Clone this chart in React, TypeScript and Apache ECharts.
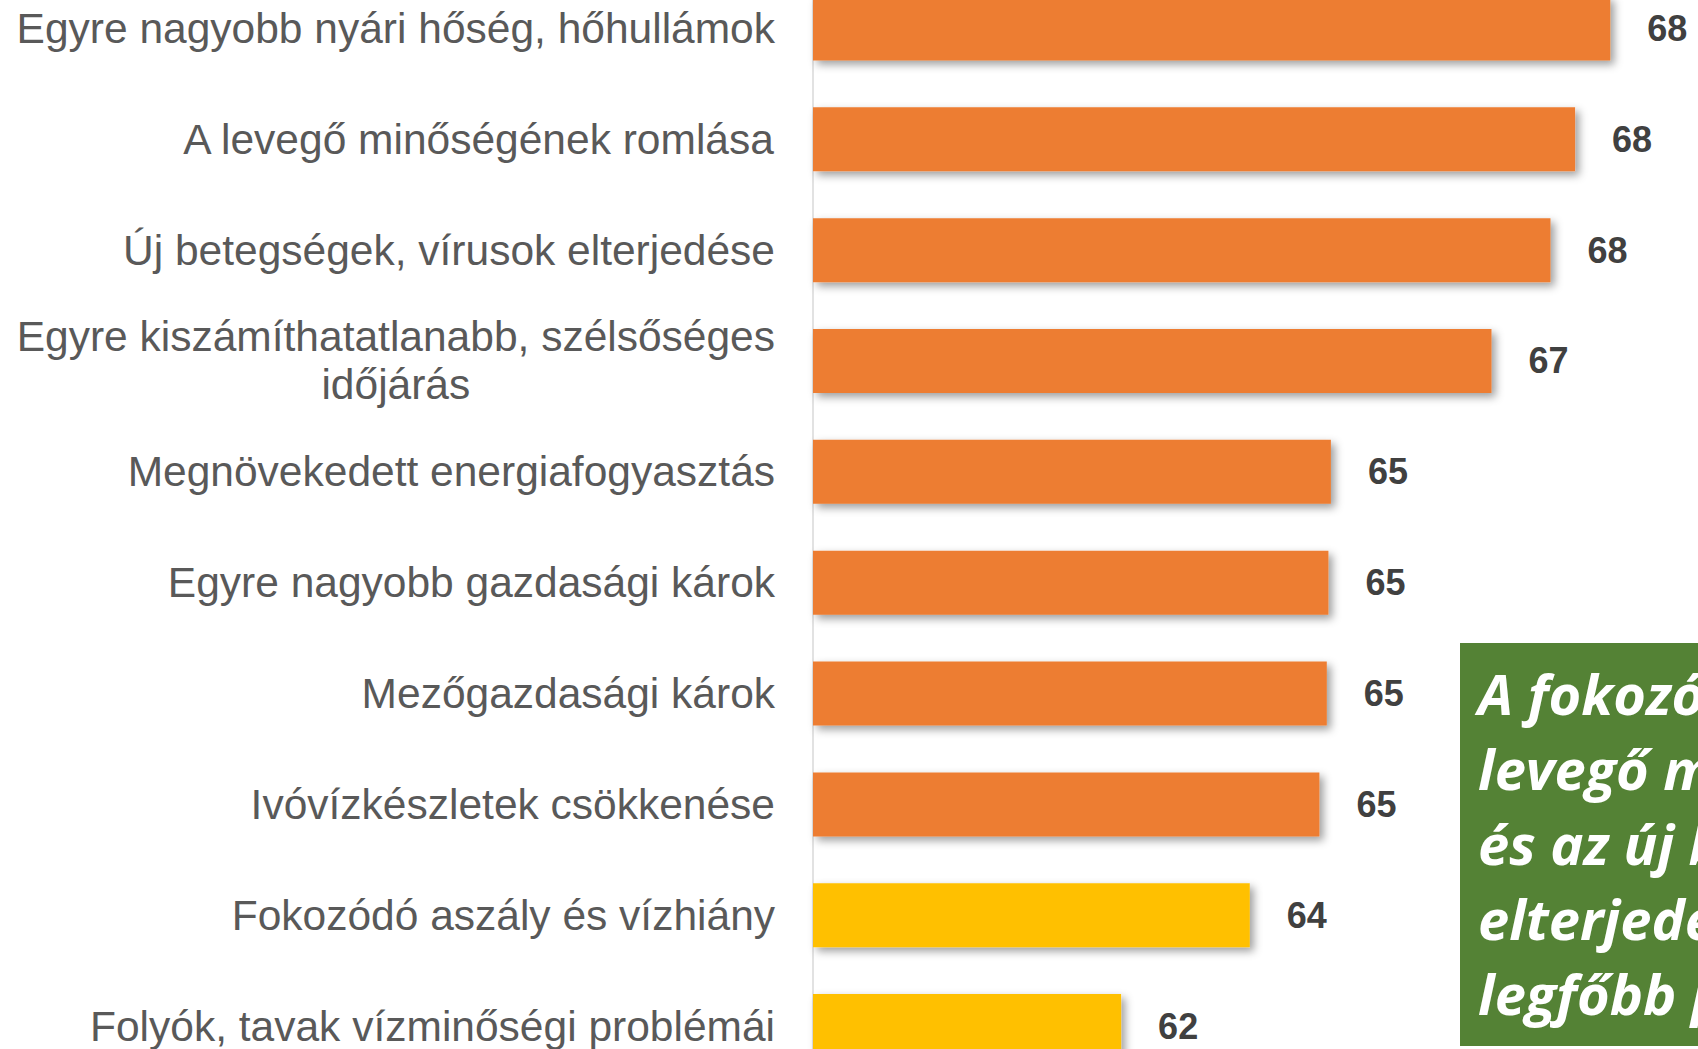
import React, { useEffect, useRef } from "react";
import * as echarts from "echarts";

const categories = [
  "Egyre nagyobb nyári hőség, hőhullámok",
  "A levegő minőségének romlása",
  "Új betegségek, vírusok elterjedése",
  "Egyre kiszámíthatatlanabb, szélsőséges\nidőjárás",
  "Megnövekedett energiafogyasztás",
  "Egyre nagyobb gazdasági károk",
  "Mezőgazdasági károk",
  "Ivóvízkészletek csökkenése",
  "Fokozódó aszály és vízhiány",
  "Folyók, tavak vízminőségi problémái",
];

const values = [68.43, 68.0, 67.7, 66.98, 65.02, 64.99, 64.97, 64.88, 64.03, 62.46];

const tiers = ["high", "high", "high", "high", "high", "high", "high", "high", "mid", "mid"];

const calloutLines = [
  "A fokozódó hőség, a",
  "levegő minőségének romlása",
  "és az új betegségek",
  "elterjedése jelentik a",
  "legfőbb problémát",
];

const tierColor: Record<string, string> = { high: "#ED7D31", mid: "#FFC000" };

const OFF = 40;

export default function App() {
  const ref = useRef<HTMLDivElement>(null);
  useEffect(() => {
    if (!ref.current) return;
    const chart = echarts.init(ref.current, undefined, { renderer: "svg" });
    chart.setOption({
      animation: false,
      backgroundColor: "#ffffff",
      grid: { left: 813, right: 0, top: OFF - 27, height: 1108.5, containLabel: false },
      xAxis: {
        type: "value",
        min: 58.7,
        max: 69.5,
        show: false,
        splitLine: { show: false },
      },
      yAxis: {
        type: "category",
        inverse: true,
        data: categories,
        axisTick: { show: false },
        axisLine: { show: true, lineStyle: { color: "#D9D9D9", width: 1.5 } },
        axisLabel: {
          margin: 38,
          color: "#595959",
          fontFamily: "Liberation Sans, Arial, sans-serif",
          fontSize: 42.5,
          lineHeight: 48,
          formatter: (v: string) =>
            v
              .split("\n")
              .map((l) => `{c|${l}}`)
              .join("\n"),
          rich: {
            c: {
              align: "center",
              color: "#595959",
              fontFamily: "Liberation Sans, Arial, sans-serif",
              fontSize: 42.5,
              lineHeight: 48,
            },
          },
        },
      },
      series: [
        {
          type: "bar",
          barWidth: 64,
          data: values.map((v, i) => ({
            value: v,
            itemStyle: { color: tierColor[tiers[i]] },
          })),
          itemStyle: {
            shadowBlur: 8,
            shadowOffsetX: 4,
            shadowOffsetY: 4,
            shadowColor: "rgba(0,0,0,0.38)",
          },
          label: {
            show: true,
            position: "right",
            distance: 37,
            color: "#404040",
            fontWeight: "bold",
            fontSize: 36,
            fontFamily: "Liberation Sans, Arial, sans-serif",
            formatter: (p: any) => String(Math.round(p.value)),
          },
        },
      ],
      graphic: [
        {
          type: "rect",
          shape: { x: 1460, y: OFF + 643, width: 400, height: 403 },
          style: { fill: "#548235" },
          z: 10,
        },
        {
          type: "text",
          x: 1478,
          y: OFF + 655,
          z: 11,
          style: {
            text: calloutLines.join("\n"),
            fill: "#ffffff",
            fontFamily: "Open Sans, Noto Sans, sans-serif",
            fontWeight: "bold",
            fontStyle: "italic",
            fontSize: 56,
            lineHeight: 75,
            verticalAlign: "top",
            align: "left",
          },
        },
      ],
    });
    return () => chart.dispose();
  }, []);
  return (
    <div
      style={{ position: "absolute", left: 0, top: 0, width: 1698, height: 1049, overflow: "hidden" }}
    >
      <div
        ref={ref}
        style={{ position: "absolute", left: 0, top: -OFF, width: 1698, height: 1049 + 2 * OFF }}
      />
    </div>
  );
}
